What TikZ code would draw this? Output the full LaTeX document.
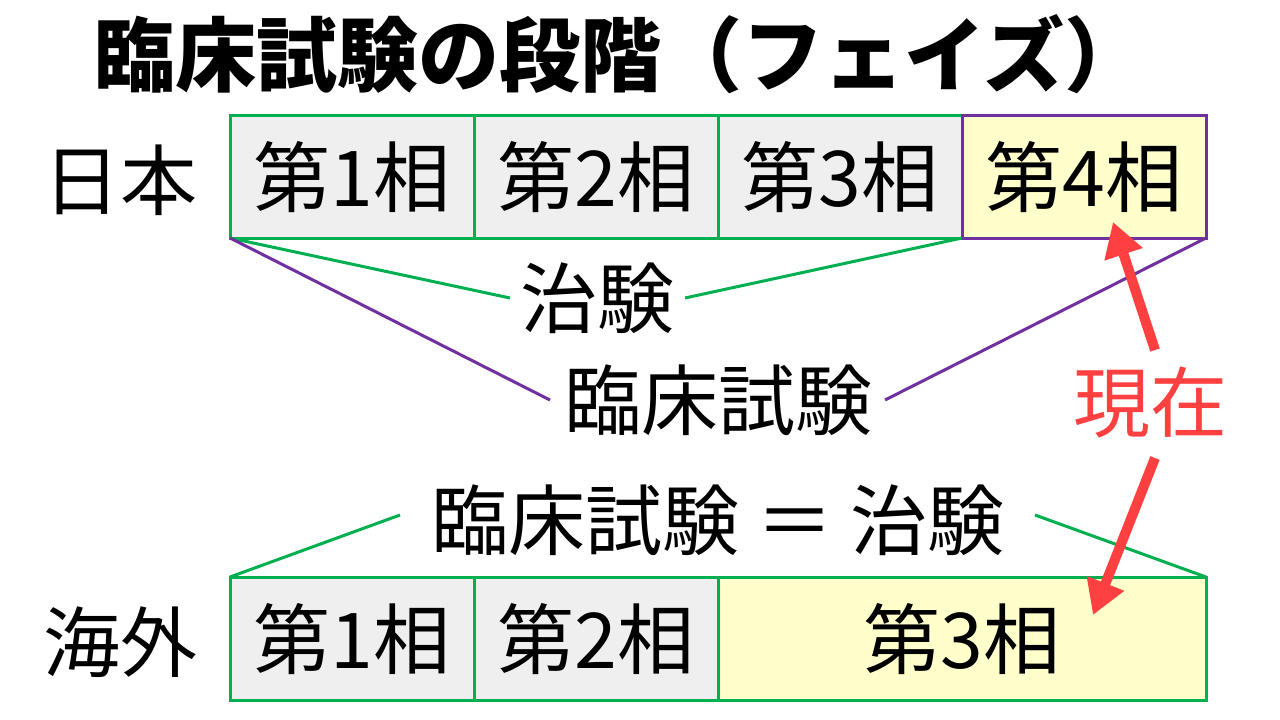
\documentclass[tikz,border=0pt]{standalone}
\usepackage{fontspec}
\setmainfont{Noto Sans CJK JP}
\usetikzlibrary{arrows.meta}
\definecolor{gbox}{HTML}{EFEFEF}
\definecolor{ybox}{HTML}{FFFFCC}
\definecolor{grn}{HTML}{00B050}
\definecolor{pur}{HTML}{7030A0}
\definecolor{rd}{HTML}{FF4040}
\begin{document}
\begin{tikzpicture}[x=1pt,y=-1pt,
  bx/.style={draw=grn,line width=3pt,fill=gbox},
  yb/.style={draw=grn,line width=3pt,fill=ybox},
  txt/.style={font=\fontsize{77}{84}\selectfont,inner sep=0pt},
  gl/.style={draw=grn,line width=3pt},
  pl/.style={draw=pur,line width=3pt},
  ra/.style={draw=rd,line width=10pt,-{Triangle[length=34pt,width=38pt]}}]
\useasboundingbox (0,0) rectangle (1280,720);
\node[font=\bfseries\fontsize{81}{88}\selectfont,inner sep=0pt] (title) at (620,54) {臨床試験の段階（フェイズ）};
% Japan
\draw[bx] (230,115) rectangle (474,238);
\draw[bx] (474,115) rectangle (718,238);
\draw[bx] (718,115) rectangle (962,238);
\draw[draw=pur,line width=3pt,fill=ybox] (962,115) rectangle (1206,238);
\node[txt] (j1) at (352,177) {第1相};
\node[txt] (j2) at (596,177) {第2相};
\node[txt] (j3) at (840,177) {第3相};
\node[txt] (j4) at (1084,177) {第4相};
\node[txt] (jp) at (120,180) {日本};
\coordinate (jl) at (230,238); \coordinate (j3r) at (962,238); \coordinate (jr) at (1206,238);
\node[txt] (chiken) at (597,298) {治験};
\node[txt] (rinsho) at (718,400) {臨床試験};
\draw[gl] (jl) -- (510,298);
\draw[gl] (j3r) -- (685,298);
\draw[pl] (jl) -- (550,400);
\draw[pl] (jr) -- (885,400);
\node[txt,text=rd] (now) at (1150,402) {現在};
% Overseas
\node[txt] (eq) at (718,520) {臨床試験 ＝ 治験};
\draw[gl] (400,515) -- (230,577);
\draw[gl] (1035,515) -- (1206,577);
\draw[bx] (230,577) rectangle (474,700);
\draw[bx] (474,577) rectangle (718,700);
\draw[yb] (718,577) rectangle (1206,700);
\node[txt] (o1) at (352,639) {第1相};
\node[txt] (o2) at (596,639) {第2相};
\node[txt] (o3) at (962,639) {第3相};
\node[txt] (os) at (120,642) {海外};
\draw[ra] (1155,350) -- (1113,222);
\draw[ra] (1155,458) -- (1093,615);
\end{tikzpicture}
\end{document}
